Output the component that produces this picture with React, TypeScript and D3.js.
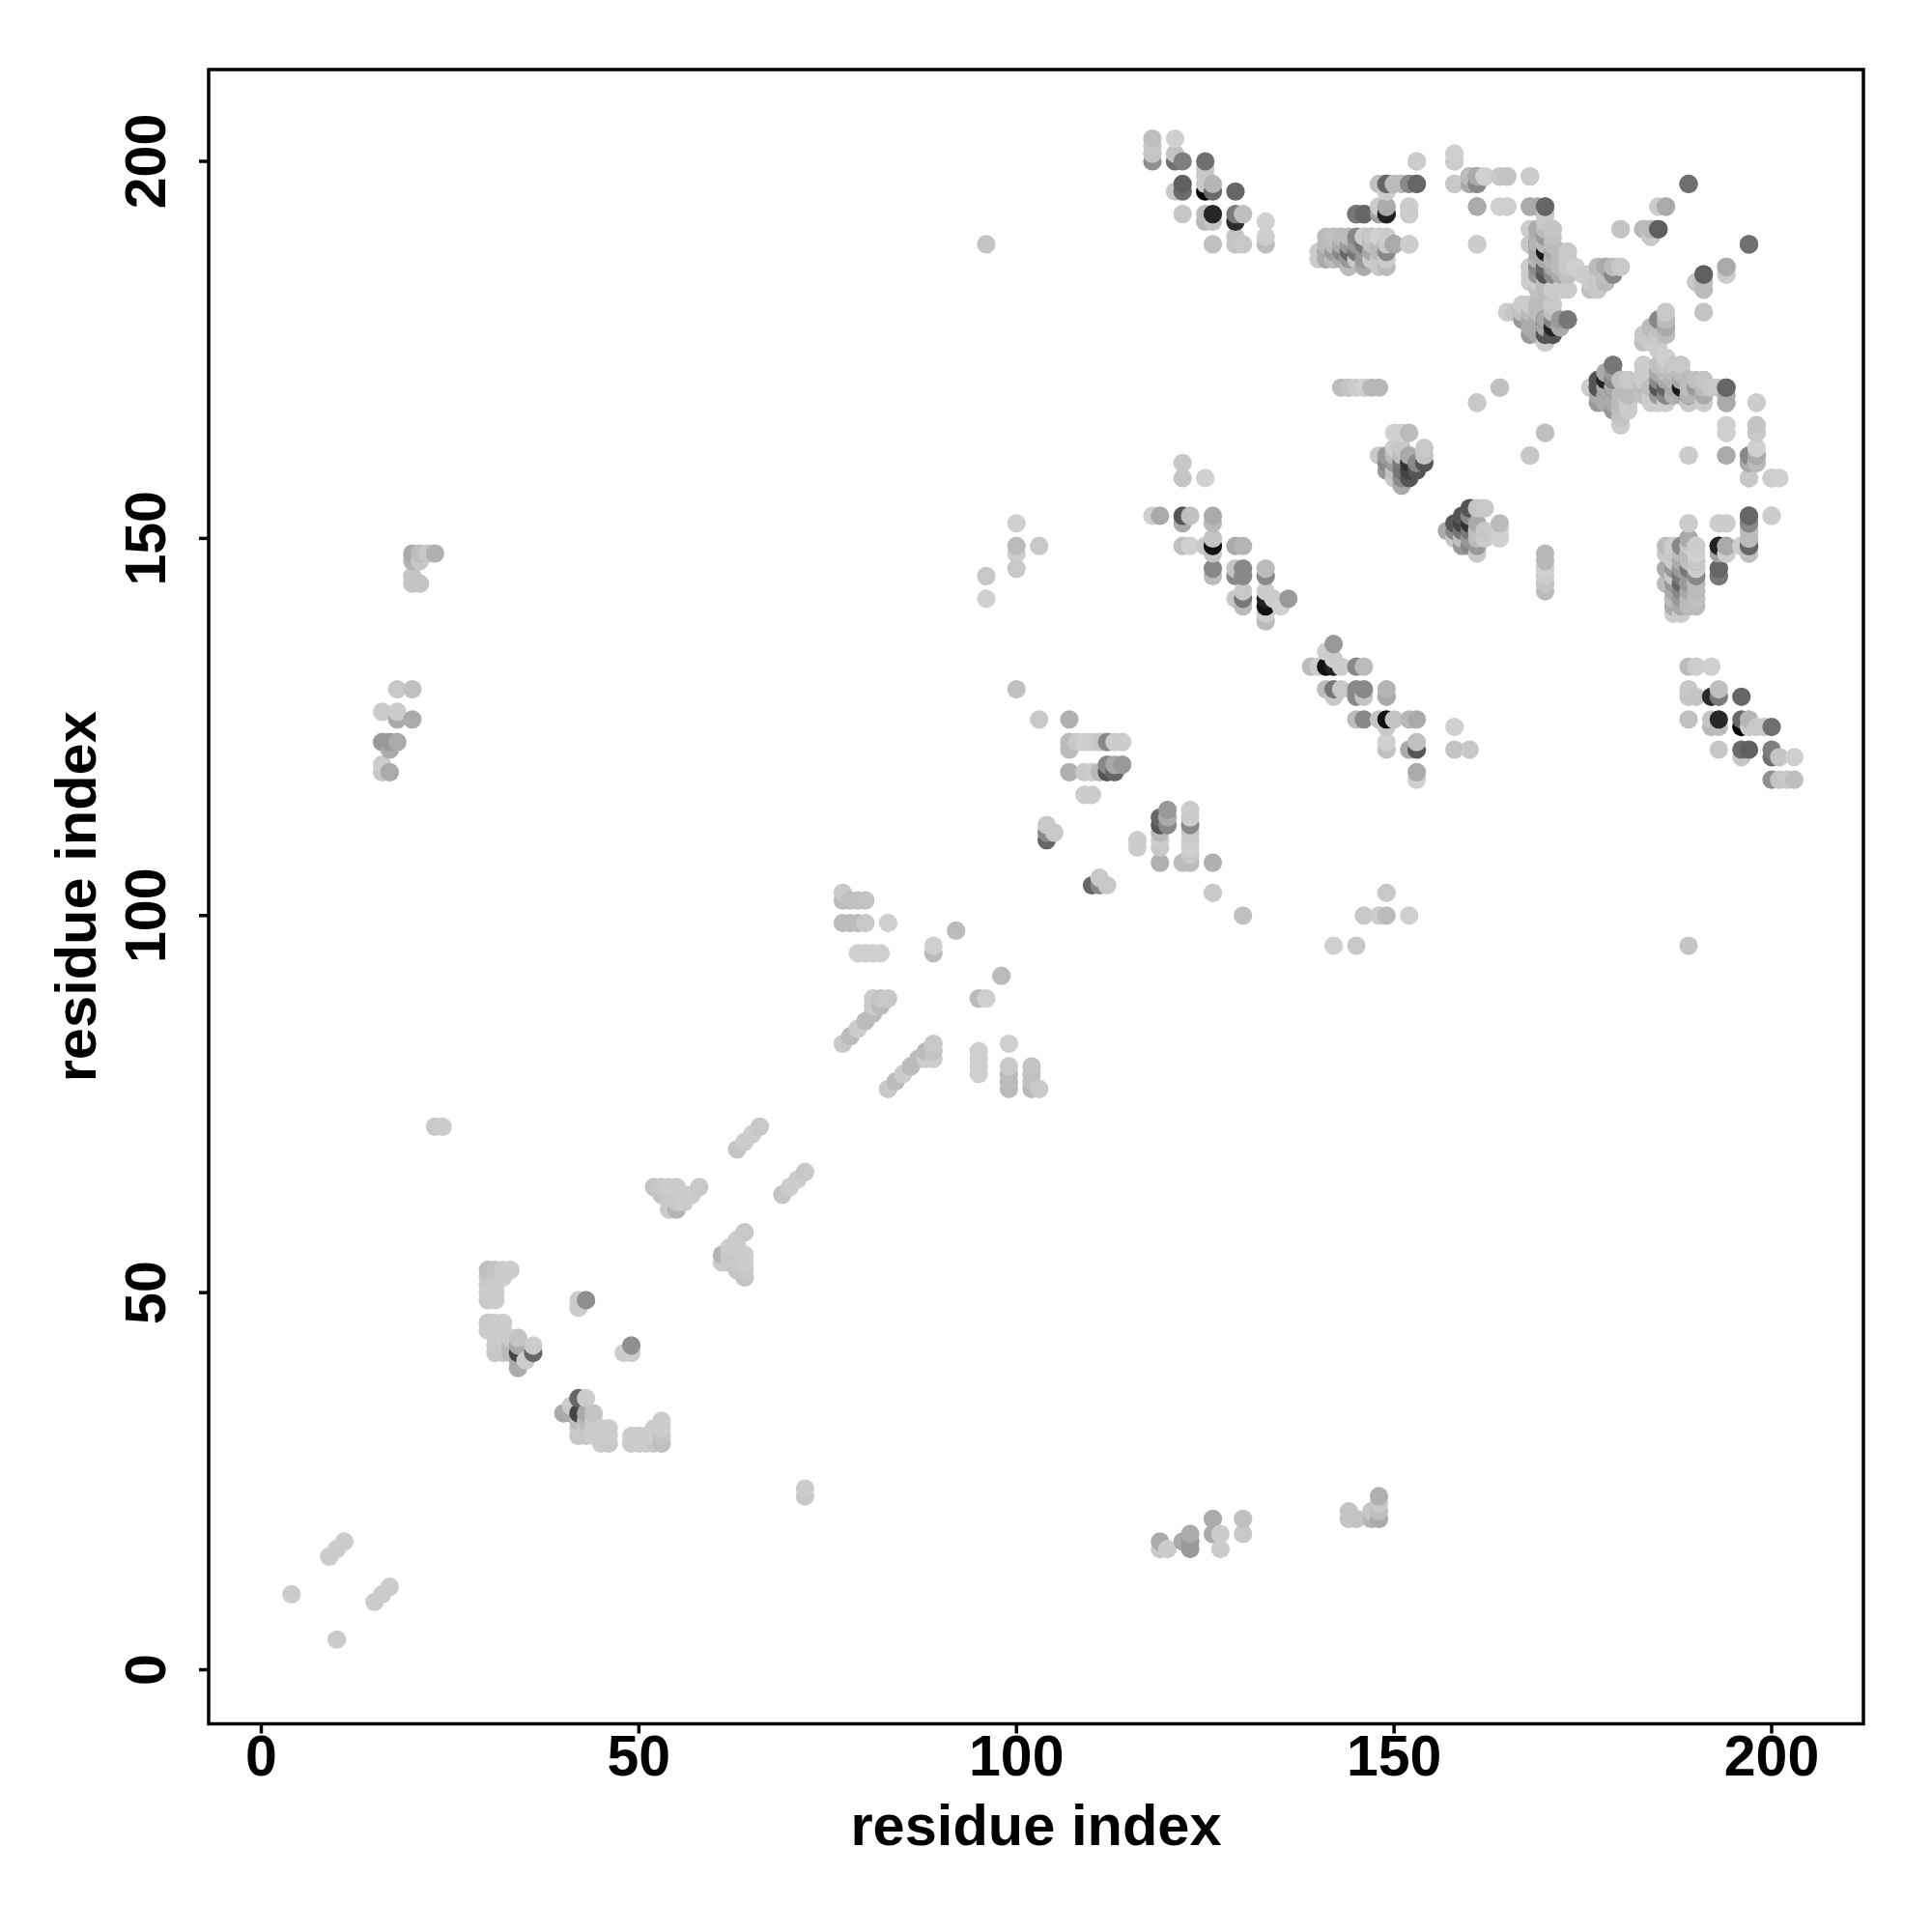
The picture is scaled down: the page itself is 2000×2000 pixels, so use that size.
import React from "react";
import * as d3 from "d3";

// Contacts as [residue i, residue j, grey level]; each is drawn at (i,j) and (j,i).
const shortRange: number[][] = [
  [4,10,203],[9,15,203],[10,16,203],[11,17,203],
  [23,72,200],[24,72,204],
];
const farStrandA: number[][] = [
  [20,148,170],[21,148,190],[22,148,200],[23,148,176],[20,147,180],[21,147,200],[20,145,196],[20,144,196],[21,144,196],
  [18,130,200],[20,130,192],[16,127,204],[18,127,204],[18,126,170],[20,126,170],
  [16,123,153],[17,123,153],[18,123,170],[17,122,170],[16,120,204],[16,119,200],[17,119,170],
];
const cornerCluster: number[][] = [
  [30,53,190],[31,53,196],[32,53,204],[33,53,204],[30,52,200],[31,52,204],[32,52,204],[30,51,204],[31,51,204],[30,50,204],[31,50,204],[30,49,200],[31,49,204],
  [30,46,200],[31,46,204],[32,46,204],[30,45,204],[31,45,204],[32,45,204],[31,44,204],[32,44,204],[33,44,204],
  [31,43,200],[32,43,200],[33,43,187],[31,42,200],[32,42,200],[33,42,187],
  [34,44,196],[34,43,170],[34,42,68],[34,41,170],[34,40,170],[35,41,204],[36,43,204],[36,42,102],
  [42,49,204],[43,49,143],[42,48,204],
];
const midCluster: number[][] = [
  [52,64,196],[53,64,200],[54,64,204],[55,64,204],[53,63,196],[54,63,200],[55,63,200],[56,63,204],[57,63,204],[58,64,200],
  [54,62,200],[55,62,200],[56,62,204],[54,61,204],[55,61,180],
  [63,69,196],[64,70,204],[65,71,204],[66,72,200],
];
const hairpin: number[][] = [
  [77,103,200],[77,102,187],[78,102,192],[79,102,192],[80,102,196],
  [77,99,187],[78,99,187],[79,99,187],[80,99,200],[83,99,207],
  [79,95,207],[80,95,207],[81,95,207],[82,95,207],
  [89,96,207],[89,95,187],[92,98,187],
  [77,83,200],[78,84,187],[79,85,204],[80,86,187],[81,87,187],[82,88,187],[81,89,204],[82,89,196],[83,89,200],[81,88,204],
];
const lateContacts: number[][] = [
  [104,110,102],[104,111,136],[105,111,200],[104,112,200],
  [100,130,192],[103,126,200],[107,126,176],
  [107,123,187],[108,123,200],[109,123,207],[110,123,204],[111,123,200],[112,123,136],[113,123,204],[114,123,204],[107,122,187],
  [112,120,136],[113,120,170],[114,120,153],
  [107,119,176],[109,119,200],[110,119,204],[111,119,184],[112,119,85],[113,119,102],[109,116,204],[110,116,204],
];
const bandOne: number[][] = [
  [96,145,200],[96,142,208],[100,152,207],[100,149,187],[100,148,204],[100,146,200],[103,149,200],[96,189,196],
  [122,160,200],[122,158,196],[125,158,208],
  [118,153,208],[119,153,170],[122,153,85],[123,153,192],[122,152,170],[126,153,170],[126,152,184],
  [122,149,192],[123,149,208],[125,149,200],[126,150,196],[126,149,17],[126,148,196],[129,149,170],[130,149,180],
  [126,146,136],[126,145,187],[129,146,196],[130,146,136],[129,145,136],[130,145,136],[133,146,187],[133,145,136],
  [129,142,200],[130,143,200],[130,142,119],[130,141,187],[133,143,204],[133,142,34],[133,141,17],[134,142,204],[135,141,208],[136,142,153],[133,139,187],[133,140,204],
];
const topLeftBlock: number[][] = [
  [118,200,143],[118,201,196],[118,202,200],[118,203,190],
  [121,200,112],[121,201,196],[121,203,207],[122,200,127],
  [125,200,111],[125,199,200],[125,198,200],[125,197,200],
  [122,197,96],[122,196,107],[121,196,200],
  [125,196,5],[126,197,181],[126,196,106],[129,196,102],
  [122,193,198],[125,193,187],[125,192,184],[126,193,38],[126,192,197],[129,193,122],[130,193,191],[129,192,43],
  [133,192,208],[133,190,205],[133,189,189],[126,189,192],[129,190,196],[129,189,196],[130,189,200],
];
const topMidBlock: number[][] = [
  [148,197,207],[149,197,119],[150,197,196],[151,197,204],[152,197,144],[153,197,111],[149,196,200],
  [148,194,208],[149,194,176],[148,193,160],[149,193,58],[145,193,122],[146,193,122],[152,194,204],[152,193,204],
  [153,200,200],[158,201,208],[158,200,196],[158,197,200],
  [160,198,192],[160,197,187],[161,198,140],[161,197,144],[162,198,208],[164,198,196],[165,198,200],[168,198,200],
  [161,194,176],[164,194,207],[165,194,207],[161,189,207],[152,189,200],
  [142,190,187],[143,190,196],[144,190,200],[145,190,192],[146,190,168],[147,190,136],[148,190,208],[149,190,208],
  [142,189,170],[143,189,176],[144,189,196],[145,189,190],[146,189,119],[147,189,102],[148,189,190],[149,189,106],[150,189,119],
  [141,188,192],[142,188,153],[143,188,190],[144,188,204],[145,188,119],[146,188,85],[147,188,204],[148,188,187],[149,188,170],
  [141,187,200],[142,187,187],[143,187,204],[144,187,204],[146,187,153],[147,187,204],[149,187,204],
  [146,186,170],[149,186,187],
  [143,170,187],[144,170,196],[145,170,204],[146,170,200],[147,170,184],[148,170,184],
];
const innerCluster: number[][] = [
  [150,164,208],[151,164,208],[152,164,187],[150,162,204],[151,162,200],[154,162,200],
  [148,161,200],[149,161,153],[150,161,187],[151,161,190],[152,161,170],[154,161,196],
  [149,160,136],[150,160,153],[151,160,119],[152,160,51],[153,160,136],[154,160,85],
  [149,159,153],[150,159,192],[151,159,119],[152,159,68],[153,159,85],
  [150,158,200],[151,158,136],[152,158,85],[151,157,170],
  [161,168,192],[164,170,192],[168,161,200],[170,164,192],
  [170,146,208],[170,144,196],
];
const nearDiagonal: number[][] = [
  [168,194,170],[169,194,187],[170,194,102],[170,193,200],
  [168,191,204],[169,191,187],[170,191,170],[171,191,196],[169,190,187],[170,190,187],[171,190,192],
  [168,189,204],[169,189,34],[171,189,192],[169,188,153],[170,188,170],[171,188,187],[172,188,192],[173,188,200],
  [169,187,136],[170,187,153],[171,187,187],[172,187,192],[173,187,192],
  [168,186,204],[169,186,119],[170,186,85],[172,186,192],[174,186,208],
  [168,185,204],[169,185,136],[170,185,102],[171,185,153],[172,185,170],[173,185,187],[175,185,204],
  [177,186,196],[178,186,187],[179,186,170],[180,186,204],[176,185,192],[177,185,187],[178,185,170],[179,185,136],
  [176,184,204],[177,184,187],[178,184,170],[169,184,204],[170,184,187],
  [176,183,192],[169,183,192],[170,183,187],[171,183,204],[172,183,204],[173,183,204],
  [165,180,204],[166,180,200],[167,181,204],[167,180,187],[168,181,200],[169,181,187],[171,181,204],
  [167,179,153],[168,179,170],[168,178,170],[169,179,170],[169,178,170],[170,179,34],[170,178,68],[170,177,60],[170,176,204],[171,177,85],[172,179,153],[173,179,119],[171,179,136],[172,178,170],
];
const upperRight: number[][] = [
  [189,197,111],[185,194,208],[186,194,170],[180,191,200],[183,191,187],[184,191,192],[185,191,95],[184,190,196],
  [197,189,111],[191,185,95],[190,184,200],[191,184,187],[191,183,187],[194,186,170],[194,185,204],[191,180,196],
  [186,180,200],[185,179,136],[186,179,187],[184,178,187],[185,178,192],[186,178,170],[183,177,200],[184,177,200],[185,177,200],[186,177,187],
  [185,176,204],[185,175,204],[186,174,208],[183,173,204],[183,172,204],[185,173,192],[185,172,170],
  [186,173,200],[187,173,200],[188,173,200],[186,172,187],[187,172,187],[188,172,187],
  [185,171,136],[186,171,170],[187,171,180],[188,171,170],[189,171,187],[191,171,196],
  [183,170,187],[184,170,190],[185,170,85],[186,170,102],[187,170,170],[188,170,26],[189,170,187],[190,170,153],[191,170,187],[192,170,200],[193,170,200],[194,170,102],
  [185,169,153],[186,169,136],[187,169,180],[188,169,170],[189,169,180],[190,169,180],[191,169,170],[194,169,170],
  [184,168,204],[185,168,204],[186,168,204],[189,168,200],[191,168,204],[194,168,170],[198,168,204],
  [176,170,204],[177,171,85],[178,172,170],[179,173,119],[178,171,34],[179,170,170],[180,171,192],[181,171,200],[177,170,85],[178,170,170],
  [177,169,170],[178,169,170],[179,169,170],[180,169,187],[181,169,187],
  [177,168,153],[178,168,170],[179,168,170],[180,168,187],[181,168,204],[180,167,192],[181,167,204],[180,166,196],[180,165,204],
  [194,165,208],[194,164,208],[198,165,196],[198,164,200],[198,162,208],[197,161,136],[198,161,170],[197,160,170],[198,160,187],
  [197,158,200],[200,158,204],[201,158,208],[194,161,170],[189,161,204],
];
const rightColumn: number[][] = [
  [197,153,102],[197,152,136],[197,151,187],[197,150,187],[197,149,102],[197,148,192],[200,153,204],
  [189,152,204],[193,152,204],[194,152,204],[193,149,34],[194,149,170],[194,148,204],[196,149,204],[193,146,102],[193,145,119],
  [189,150,170],[189,149,200],[190,149,204],[188,149,136],[186,148,200],[187,148,200],[189,148,187],[190,148,208],
  [188,147,170],[189,147,192],[190,147,200],[188,146,153],[190,146,204],[187,145,200],[188,145,119],[189,145,153],[190,145,136],
  [186,144,187],[187,144,153],[188,144,102],[189,144,153],[190,144,187],
  [187,143,170],[188,143,136],[189,143,170],[190,143,187],[187,142,187],[188,142,153],[189,142,187],[190,142,192],
  [187,141,170],[188,141,170],[189,141,187],[190,141,187],[187,140,204],[188,140,204],
];

const xTicks = [0, 50, 100, 150, 200];
const yTicks = [0, 50, 100, 150, 200];
const axisTitle = "residue index";

const FONT = '"Liberation Sans", Arial, sans-serif';

export default function App() {
  const x = d3.scaleLinear().domain([0, 200]).range([270.5, 1834]);
  const y = d3.scaleLinear().domain([0, 200]).range([1728.5, 167]);
  const left = 216, right = 1929, top = 72, bottom = 1784.5;
  const all = [
    ...shortRange, ...farStrandA, ...cornerCluster, ...midCluster, ...hairpin, ...lateContacts,
    ...bandOne, ...topLeftBlock, ...topMidBlock, ...innerCluster, ...nearDiagonal, ...upperRight, ...rightColumn,
  ];
  const points = all
    .flatMap(([a, b, g]) => [{ px: a, py: b, g }, { px: b, py: a, g }])
    .sort((p, q) => d3.ascending(p.px, q.px) || d3.ascending(p.py, q.py));
  return (
    <svg width={2000} height={2000} style={{ position: "absolute", left: 0, top: 0, background: "#fff" }}>
      {points.map((p, i) => (
        <circle key={i} cx={x(p.px)} cy={y(p.py)} r={9.6} fill={d3.rgb(p.g, p.g, p.g).formatHex()} />
      ))}
      <rect x={left} y={top} width={right - left} height={bottom - top} fill="none" stroke="#000" strokeWidth={3.5} />
      {xTicks.map((t) => (
        <g key={t}>
          <line x1={x(t)} x2={x(t)} y1={bottom} y2={bottom + 10} stroke="#000" strokeWidth={3.5} />
          <text x={x(t)} y={1838} textAnchor="middle" fontFamily={FONT} fontWeight="bold" fontSize={59} fill="#000">{t}</text>
        </g>
      ))}
      {yTicks.map((t) => (
        <g key={t}>
          <line x1={left - 10} x2={left} y1={y(t)} y2={y(t)} stroke="#000" strokeWidth={3.5} />
          <text transform={`translate(171,${y(t)}) rotate(-90)`} textAnchor="middle" fontFamily={FONT} fontWeight="bold" fontSize={59} fill="#000">{t}</text>
        </g>
      ))}
      <text x={(left + right) / 2} y={1910} textAnchor="middle" fontFamily={FONT} fontWeight="bold" fontSize={59.6} fill="#000">{axisTitle}</text>
      <text transform={`translate(99,${(top + bottom) / 2}) rotate(-90)`} textAnchor="middle" fontFamily={FONT} fontWeight="bold" fontSize={59.6} fill="#000">{axisTitle}</text>
    </svg>
  );
}
